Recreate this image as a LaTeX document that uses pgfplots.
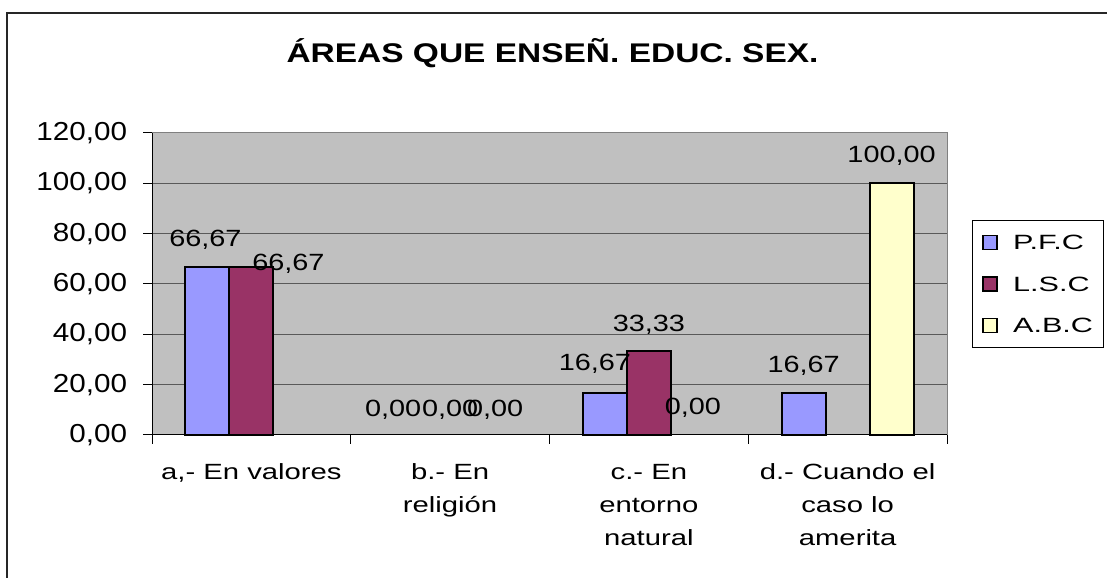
\documentclass[border=0pt]{standalone}
\usepackage{fontspec}
\setmainfont{Liberation Sans}
\newfontfamily\titfont[FakeStretch=1.24]{Liberation Sans}
\newfontfamily\tickfont[FakeStretch=1.14]{Liberation Sans}
\newfontfamily\labfont[FakeStretch=1.23]{Liberation Sans}
\newfontfamily\catfont[FakeStretch=1.33]{Liberation Sans}
\newfontfamily\legfont[FakeStretch=1.48]{Liberation Sans}
\usepackage{pgfplots}
\usepackage{pgfplotstable}
\pgfplotsset{compat=1.18}

\definecolor{pfc}{HTML}{9999FF}
\definecolor{lsc}{HTML}{993366}
\definecolor{abc}{HTML}{FFFFCC}
\definecolor{plotbg}{HTML}{C0C0C0}

% x = category (0..3), y = percentage; zero values kept apart (label only, no bar outline)
\pgfplotstableread{
x y
0 66.67
2 16.67
3 16.67
}\pfcdata
\pgfplotstableread{
x y
1 0
}\pfczero
\pgfplotstableread{
x y
0 66.67
2 33.33
}\lscdata
\pgfplotstableread{
x y
1 0
}\lsczero
\pgfplotstableread{
x y
3 100
}\abcdata
\pgfplotstableread{
x y
1 0
2 0
}\abczero

\pgfplotsset{
  legsq/.style={legend image code/.code={
      \draw[##1, line width=1pt] (0pt,-5.25pt) rectangle (10.5pt,5.25pt);
      \path (21.75pt,0pt);}},
  zerobar/.style={draw=none, fill=none, forget plot},
}

\begin{document}
\begin{tikzpicture}
\useasboundingbox (0,0) rectangle (830.25pt,433.5pt);
\fill[white] (0,0) rectangle (830.25pt,433.5pt);
% chart frame (only top and left edges are inside the picture)
\draw[black!85, line width=1.5pt] (5.25pt,0pt) |- (830.25pt,423.75pt);
\node[anchor=base, inner sep=0pt, font=\titfont\bfseries\fontsize{20.25pt}{24pt}\selectfont]
  at (414.4pt,386.25pt) {ÁREAS QUE ENSEÑ. EDUC. SEX.};

\begin{axis}[
    at={(114pt,107.25pt)}, anchor=south west,
    width=596.25pt, height=226.5pt, scale only axis,
    ybar,
    bar width=0.2214,
    xmin=-0.5, xmax=3.5,
    ymin=0, ymax=120,
    ytick={0,20,...,120},
    xtick={-0.5,0.5,1.5,2.5,3.5},
    xticklabels={},
    extra x ticks={0,1,2,3},
    extra x tick labels={{a,- En valores}, {b.- En\\religión}, {c.- En\\entorno\\natural}, {d.- Cuando el\\caso lo\\amerita}},
    extra x tick style={major tick length=0pt, grid=none},
    xticklabel style={anchor=north, inner sep=0pt, yshift=-21.5pt, align=center,
        font=\catfont\fontsize{16.5pt}{24.75pt}\selectfont},
    tick align=outside,
    xtick pos=bottom, ytick pos=left,
    major tick length=6.5pt,
    tick style={black, line width=0.75pt},
    /pgf/number format/.cd, fixed, fixed zerofill, precision=2, use comma, 1000 sep={}, assume math mode=true,
    /pgfplots/.cd,
    yticklabel style={anchor=east, inner sep=0pt, xshift=-12pt,
        font=\tickfont\fontsize{19.5pt}{22pt}\selectfont},
    ymajorgrids,
    major grid style={black!65, line width=0.75pt},
    axis background/.style={fill=plotbg},
    axis line style={draw=none},
    clip=false,
    nodes near coords,
    every node near coord/.append style={anchor=base, inner sep=0pt, black, yshift=15.75pt,
        font=\labfont\fontsize{17.6pt}{20pt}\selectfont},
    legend style={at={(1.0314,0.712)}, anchor=north west,
        draw=black, line width=0.75pt, fill=white,
        inner xsep=7.5pt, inner ysep=1pt, row sep=0pt,
        font=\legfont\fontsize{15.5pt}{18pt}\selectfont,
        nodes={inner sep=0pt, text height=21pt, text depth=10.1pt}},
    legend cell align=left,
    after end axis/.code={
        \draw[black!50, line width=0.75pt] (rel axis cs:0,1) -- (rel axis cs:1,1) -- (rel axis cs:1,0);
        \draw[black, line width=0.75pt] (rel axis cs:0,1) -- (rel axis cs:0,0) -- (rel axis cs:1,0);
    },
]

    \addplot[fill=pfc, draw=black, line width=1.5pt, bar shift=-0.2214, legsq,
        coordinate style/.condition={x==0}{xshift=-1.5pt},
        coordinate style/.condition={x==2}{xshift=-7.5pt, yshift=1.5pt}]
        table[x=x, y=y] {\pfcdata};
    \addlegendentry{P.F.C}

    \addplot[fill=lsc, draw=black, line width=1.5pt, bar shift=0, legsq,
        coordinate style/.condition={x==0}{xshift=27.75pt, yshift=-18pt},
        coordinate style/.condition={x==2}{yshift=-0.75pt}]
        table[x=x, y=y] {\lscdata};
    \addlegendentry{L.S.C}

    \addplot[fill=abc, draw=black, line width=1.5pt, bar shift=0.2214, legsq]
        table[x=x, y=y] {\abcdata};
    \addlegendentry{A.B.C}

    % zero values: only their labels show
    \addplot[zerobar, bar shift=-0.2214,
        every node near coord/.append style={xshift=-9.75pt, yshift=-2.25pt}]
        table[x=x, y=y] {\pfczero};
    \addplot[zerobar, bar shift=0,
        every node near coord/.append style={yshift=-2.25pt}]
        table[x=x, y=y] {\lsczero};
    \addplot[zerobar, bar shift=0.2214,
        coordinate style/.condition={x==1}{xshift=0.75pt, yshift=-2.25pt},
        coordinate style/.condition={x==2}{yshift=-0.75pt}]
        table[x=x, y=y] {\abczero};

\end{axis}
\end{tikzpicture}
\end{document}
